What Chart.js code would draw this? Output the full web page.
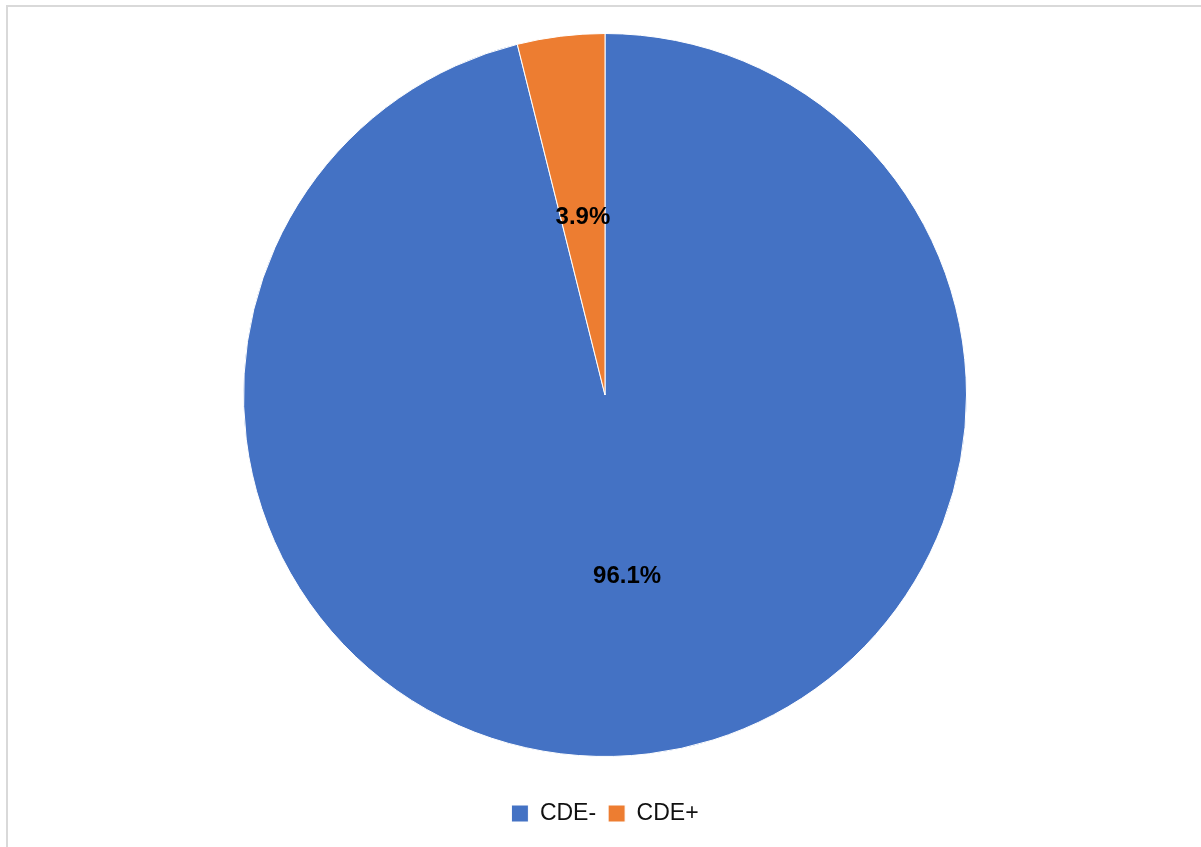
<!DOCTYPE html>
<html>
<head>
<meta charset="utf-8">
<title>CDE</title>
<script src="https://cdn.jsdelivr.net/npm/chart.js@4/dist/chart.umd.min.js"></script>
<style>
    html, body { margin: 0; padding: 0; background: #fff; overflow: hidden; }
    #frame {
        position: absolute; left: 6px; top: 5px;
        width: 1400px; height: 1000px;
        border: 2px solid #d9d9d9;
    }
    #wrap { position: absolute; left: 0; top: 0; width: 1201px; height: 847px; }
</style>
</head>
<body>
<div id="frame"></div>
<div id="wrap"><canvas id="pieChart"></canvas></div>
<script>
// Pie data
var categories = ['CDE-', 'CDE+'];
var shares = [96.1, 3.9];
var sliceColors = ['#4472C4', '#ED7D31'];

// Percent labels drawn at the middle of each slice
var sliceLabels = {
    id: 'sliceLabels',
    afterDatasetsDraw: function(chart) {
        var ctx = chart.ctx;
        var meta = chart.getDatasetMeta(0);
        ctx.save();
        ctx.font = 'bold 24px "Liberation Sans", Arial, sans-serif';
        ctx.fillStyle = '#000';
        ctx.textAlign = 'center';
        ctx.textBaseline = 'middle';
        meta.data.forEach(function(arc, i) {
            var p = arc.getCenterPoint();
            ctx.fillText(shares[i].toFixed(1) + '%', p.x, p.y + 2);
        });
        ctx.restore();
    }
};

var ctx = document.getElementById('pieChart').getContext('2d');
new Chart(ctx, {
    type: 'pie',
    data: {
        labels: categories,
        datasets: [{
            data: shares,
            backgroundColor: sliceColors,
            borderColor: '#fff',
            borderWidth: 1
        }]
    },
    options: {
        responsive: true,
        maintainAspectRatio: false,
        animation: false,
        layout: {
            padding: { top: 0, bottom: 12, left: 243, right: 234 }
        },
        plugins: {
            legend: {
                position: 'bottom',
                labels: {
                    boxWidth: 17,
                    boxHeight: 17,
                    padding: 12,
                    color: '#111',
                    font: { family: '"Liberation Sans", Arial, sans-serif', size: 23 }
                }
            },
            tooltip: { enabled: false }
        }
    },
    plugins: [sliceLabels]
});
</script>
</body>
</html>
